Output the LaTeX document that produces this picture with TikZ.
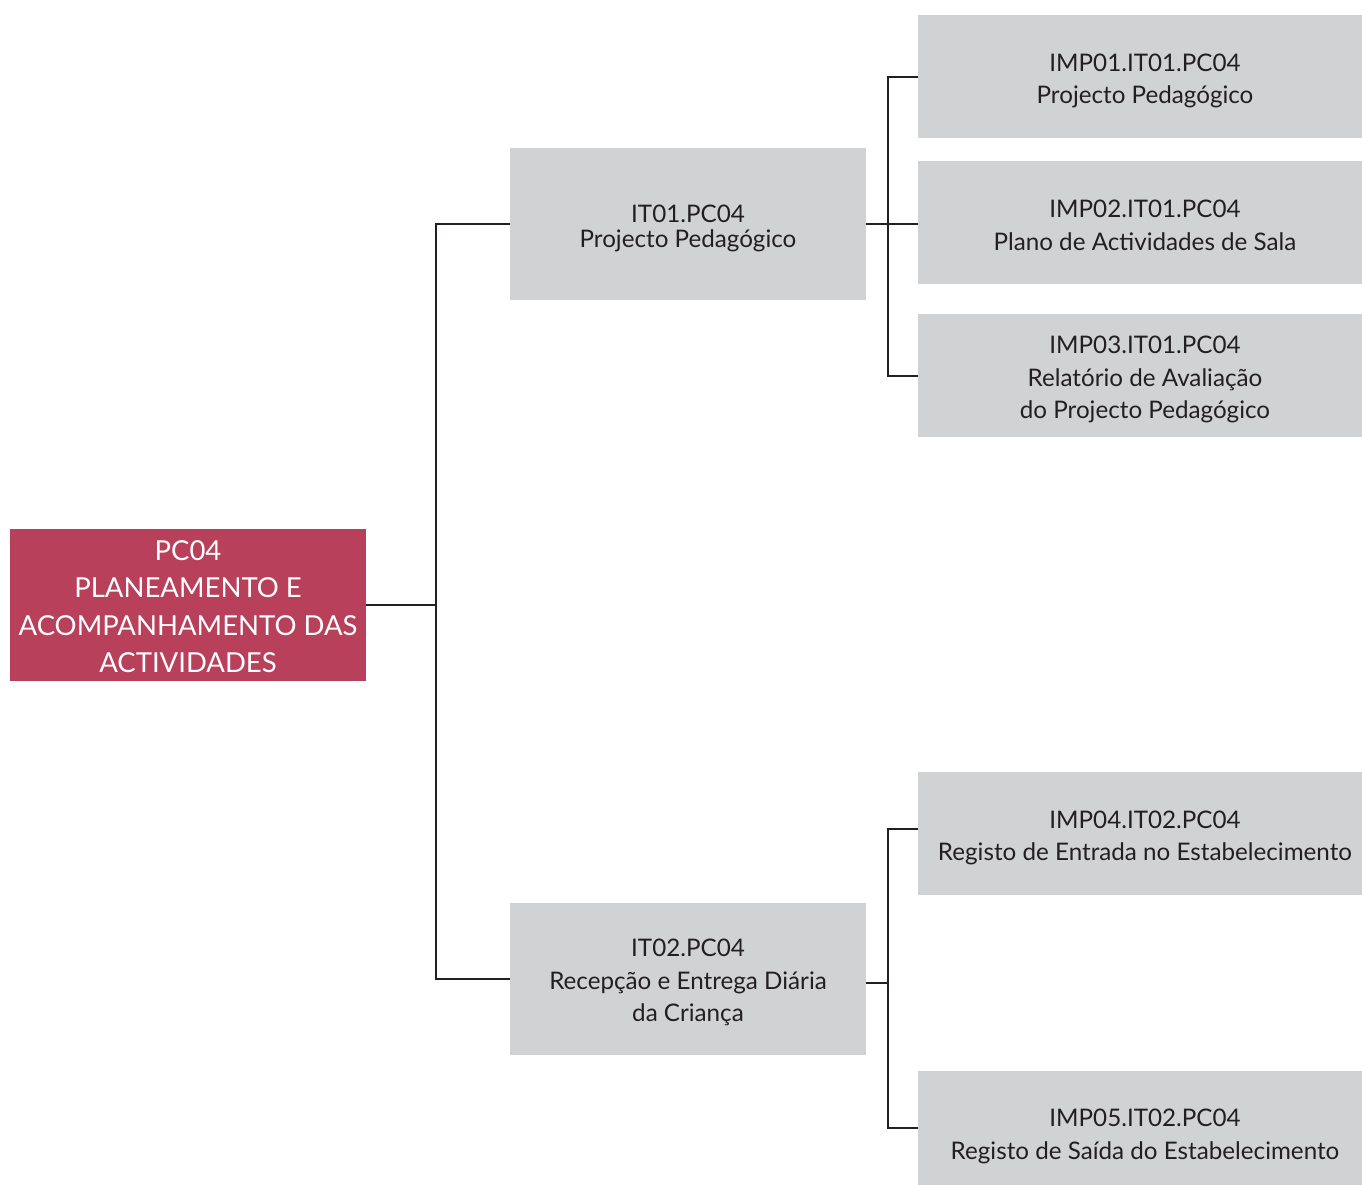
\documentclass[tikz,border=0pt]{standalone}
\usepackage{fontspec}
\setmainfont{Lato}
\definecolor{boxgray}{HTML}{D1D2D4}
\definecolor{crimson}{HTML}{B8405A}
\definecolor{ink}{HTML}{231F20}
\begin{document}
\begin{tikzpicture}[x=1pt,y=-1pt,
  gbox/.style={fill=boxgray,draw=none,inner sep=0pt},
  midbox/.style={gbox,minimum width=356,minimum height=152},
  leafbox/.style={gbox,minimum width=444,minimum height=123},
  rootbox/.style={fill=crimson,draw=none,inner sep=0pt,minimum width=356,minimum height=152},
  gtxt/.style={inner sep=0pt,align=center,text=ink,font=\fontsize{24.2}{32.5}\selectfont},
  rtxt/.style={inner sep=0pt,align=center,text=white,font=\fontsize{27.5}{37.5}\selectfont},
  conn/.style={draw=ink,line width=2pt}]
\useasboundingbox (0,0) rectangle (1362,1184);
\fill[white] (0,0) rectangle (1362,1184);

% boxes
\node[rootbox] (root) at (188,605) {};
\node[midbox] (it01) at (688,224) {};
\node[midbox] (it02) at (688,979) {};
\node[leafbox] (imp01) at (1140,76.5) {};
\node[leafbox] (imp02) at (1140,222.5) {};
\node[leafbox] (imp03) at (1140,375.5) {};
\node[leafbox] (imp04) at (1140,833) {};
\node[leafbox] (imp05) at (1140,1132.5) {};

% texts
\node[rtxt] (roott) at ([yshift=-1.5]root.center) {PC04\\PLANEAMENTO E\\ACOMPANHAMENTO DAS\\ACTIVIDADES};
\node[gtxt,font=\fontsize{24.2}{25}\selectfont] (it01t) at ([yshift=-4]it01.center) {IT01.PC04\\Projecto Pedagógico};
\node[gtxt] (it02t) at ([yshift=-3.5]it02.center) {IT02.PC04\\Recepção e Entrega Diária\\da Criança};
\node[gtxt] (imp01t) at ([xshift=5,yshift=-4.5]imp01.center) {IMP01.IT01.PC04\\Projecto Pedagógico};
\node[gtxt] (imp02t) at ([xshift=5,yshift=-3]imp02.center) {IMP02.IT01.PC04\\Plano de Actividades de Sala};
\node[gtxt] (imp03t) at ([xshift=5,yshift=-4]imp03.center) {IMP03.IT01.PC04\\Relatório de Avaliação\\do Projecto Pedagógico};
\node[gtxt] (imp04t) at ([xshift=5,yshift=-5]imp04.center) {IMP04.IT02.PC04\\Registo de Entrada no Estabelecimento};
\node[gtxt] (imp05t) at ([xshift=5,yshift=-4]imp05.center) {IMP05.IT02.PC04\\Registo de Saída do Estabelecimento};

% root level
\draw[conn] (root.east) -- ++(70,0) coordinate (j0);
\draw[conn] (it01.west) -- ++(-74,0) |- (it02.west);

% IT01 level
\draw[conn] (it01.east) -- (imp02.west |- it01.east);
\draw[conn] (imp01.west) -- ++(-30,0) |- (imp03.west);

% IT02 level
\draw[conn] ([yshift=-4]it02.east) -- ++(22,0) coordinate (j2);
\draw[conn] ([yshift=4]imp04.west) -- ++(-30,0) |- ([yshift=4.5]imp05.west);
\end{tikzpicture}
\end{document}
